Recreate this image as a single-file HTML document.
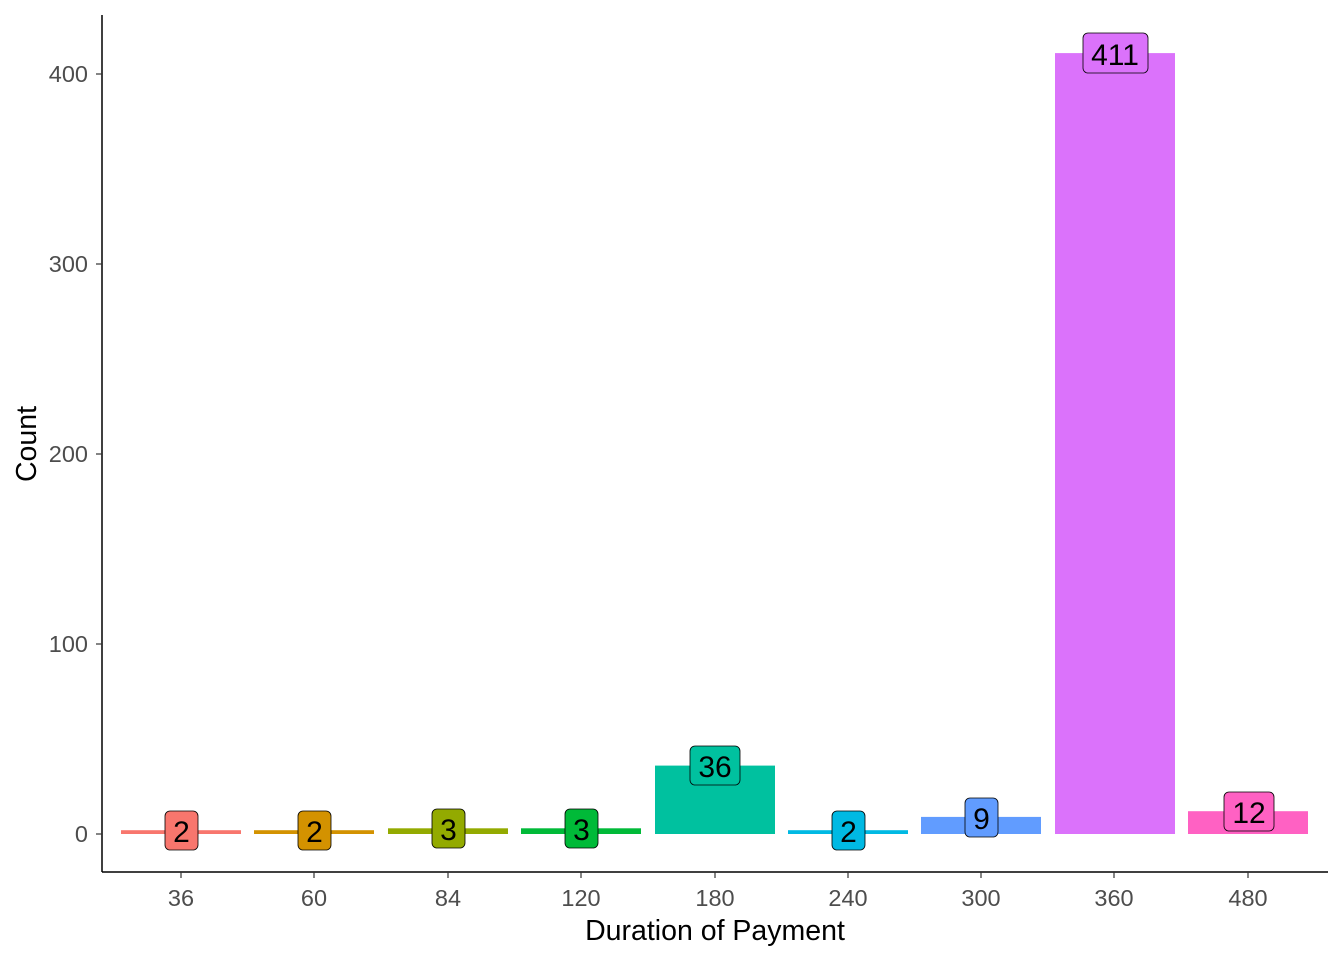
<!DOCTYPE html>
<html><head><meta charset="utf-8"><style>
html,body{margin:0;padding:0;background:#fff;}
text{font-family:"Liberation Sans",Arial,sans-serif;}
</style></head><body>
<svg width="1344" height="960" xmlns="http://www.w3.org/2000/svg">
<rect width="1344" height="960" fill="#fff"/>
<rect x="121" y="830.2" width="120" height="3.8" fill="#F8766D"/>
<rect x="254" y="830.2" width="120" height="3.8" fill="#D39200"/>
<rect x="388" y="828.3" width="120" height="5.7" fill="#93AA00"/>
<rect x="521" y="828.3" width="120" height="5.7" fill="#00BA38"/>
<rect x="655" y="765.6" width="120" height="68.4" fill="#00C19F"/>
<rect x="788" y="830.2" width="120" height="3.8" fill="#00B9E3"/>
<rect x="921" y="816.9" width="120" height="17.1" fill="#619CFF"/>
<rect x="1055" y="53.1" width="120" height="780.9" fill="#DB72FB"/>
<rect x="1188" y="811.2" width="120" height="22.8" fill="#FF61C3"/>
<g stroke="#000" stroke-width="0.8">
<rect x="165" y="811" width="33" height="39" rx="5" fill="#F8766D"/>
<rect x="298" y="811" width="33" height="39" rx="5" fill="#D39200"/>
<rect x="432" y="809" width="33" height="39" rx="5" fill="#93AA00"/>
<rect x="565" y="809" width="33" height="39" rx="5" fill="#00BA38"/>
<rect x="690" y="746" width="50" height="39" rx="5" fill="#00C19F"/>
<rect x="832" y="811" width="33" height="39" rx="5" fill="#00B9E3"/>
<rect x="965" y="798" width="33" height="39" rx="5" fill="#619CFF"/>
<rect x="1083" y="33" width="65" height="40" rx="5" fill="#DB72FB"/>
<rect x="1224" y="792" width="50" height="39" rx="5" fill="#FF61C3"/>
</g>
<g font-size="30" fill="#000" text-anchor="middle">
<text x="181.5" y="842">2</text>
<text x="314.5" y="842">2</text>
<text x="448.5" y="840">3</text>
<text x="581.5" y="840">3</text>
<text x="715" y="777">36</text>
<text x="848.5" y="842">2</text>
<text x="981.5" y="829">9</text>
<text x="1115" y="65">411</text>
<text x="1249" y="823">12</text>
</g>
<line x1="102" y1="15" x2="102" y2="872" stroke="#000" stroke-width="1.5"/>
<line x1="102" y1="872" x2="1328" y2="872" stroke="#000" stroke-width="1.5"/>
<g stroke="#333" stroke-width="1.2">
<line x1="96" y1="834" x2="102" y2="834"/><line x1="96" y1="644" x2="102" y2="644"/>
<line x1="96" y1="454" x2="102" y2="454"/><line x1="96" y1="264" x2="102" y2="264"/>
<line x1="96" y1="74" x2="102" y2="74"/>
<line x1="181" y1="872" x2="181" y2="878"/><line x1="314" y1="872" x2="314" y2="878"/>
<line x1="448" y1="872" x2="448" y2="878"/><line x1="581" y1="872" x2="581" y2="878"/>
<line x1="715" y1="872" x2="715" y2="878"/><line x1="848" y1="872" x2="848" y2="878"/>
<line x1="981" y1="872" x2="981" y2="878"/><line x1="1114" y1="872" x2="1114" y2="878"/>
<line x1="1248" y1="872" x2="1248" y2="878"/>
</g>
<g font-size="23.5" fill="#4d4d4d" text-anchor="end">
<text x="88" y="842">0</text><text x="88" y="652">100</text>
<text x="88" y="462">200</text><text x="88" y="272">300</text><text x="88" y="82">400</text>
</g>
<g font-size="23.5" fill="#4d4d4d" text-anchor="middle">
<text x="181" y="906">36</text><text x="314" y="906">60</text><text x="448" y="906">84</text>
<text x="581" y="906">120</text><text x="715" y="906">180</text><text x="848" y="906">240</text>
<text x="981" y="906">300</text><text x="1114" y="906">360</text><text x="1248" y="906">480</text>
</g>
<text x="715" y="940" font-size="28.5" text-anchor="middle" fill="#000">Duration of Payment</text>
<text transform="translate(36,444) rotate(-90)" font-size="28.5" text-anchor="middle" fill="#000">Count</text>
</svg>
</body></html>
